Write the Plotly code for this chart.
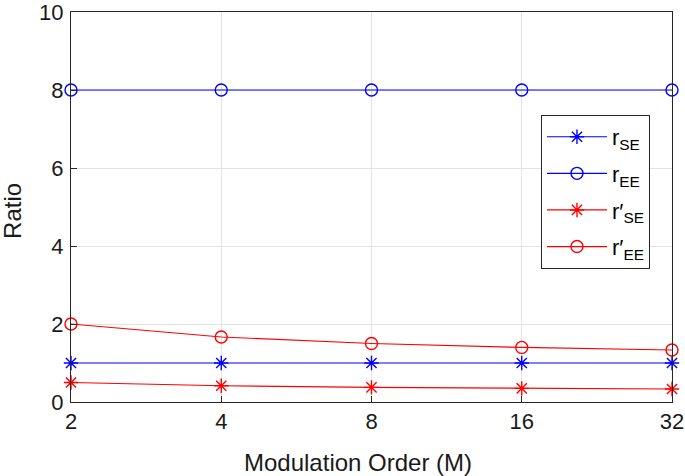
import plotly.graph_objects as go

M = ["2", "4", "8", "16", "32"]
r_se = [1, 1, 1, 1, 1]
r_ee = [8, 8, 8, 8, 8]
r_se_p = [0.5, 0.417, 0.375, 0.35, 0.333]
r_ee_p = [2.0, 1.667, 1.5, 1.4, 1.333]

names = ["r<sub>SE</sub>", "r<sub>EE</sub>", "r′<sub>SE</sub>", "r′<sub>EE</sub>"]
series = [r_se, r_ee, r_se_p, r_ee_p]
colors = ["#0000ff", "#0000ff", "#ff0000", "#ff0000"]
symbols = ["asterisk-open", "circle-open", "asterisk-open", "circle-open"]
x_title = "Modulation Order (M)"
y_title = "Ratio"

fig = go.Figure()
for i, (nm, ys, c, s) in enumerate(zip(names, series, colors, symbols)):
    fig.add_trace(go.Scatter(
        x=M, y=ys, mode="lines+markers", name=nm, cliponaxis=False,
        legendgroup=f"g{i}",
        line=dict(color=c, width=1.2),
        marker=dict(symbol=s, size=12, color=c, line=dict(color=c, width=1.4)),
    ))

FAM = "Liberation Sans, Arial, sans-serif"
tick_font = dict(family=FAM, size=22, color="#1a1a1a")
title_font = dict(family=FAM, size=24, color="#1a1a1a")
axis_common = dict(
    showline=True, linecolor="#262626", linewidth=1, mirror=True,
    ticks="inside", ticklen=6, tickcolor="#262626",
    showgrid=True, gridcolor="#e3e3e3", gridwidth=1, zeroline=False,
    tickfont=tick_font, ticklabeloverflow="allow",
)
fig.update_xaxes(type="category", range=[0, 4], automargin=False, **axis_common)
fig.update_yaxes(range=[0, 10], tickvals=[0, 2, 4, 6, 8, 10], automargin=False,
                 ticklabelstandoff=2, **axis_common)

fig.add_annotation(text=x_title, xref="paper", yref="paper", x=0.4775, y=-0.154,
                   xanchor="center", yanchor="middle", showarrow=False, font=title_font)
fig.add_annotation(text=y_title, xref="paper", yref="paper", x=-0.0965, y=0.49,
                   xanchor="center", yanchor="middle", textangle=-90,
                   showarrow=False, font=title_font)

fig.update_layout(
    width=685, height=476,
    margin=dict(l=71, r=13, t=12, b=74),
    plot_bgcolor="white", paper_bgcolor="white",
    font=tick_font,
    legend=dict(x=0.782, y=0.736, xanchor="left", yanchor="top",
                bgcolor="white", bordercolor="#262626", borderwidth=1,
                font=dict(family=FAM, size=22, color="#000"),
                itemwidth=60, tracegroupgap=5),
    showlegend=True,
)
fig.write_html("out.html", config={"displayModeBar": False},
               post_script="document.body.style.margin='0px';")
